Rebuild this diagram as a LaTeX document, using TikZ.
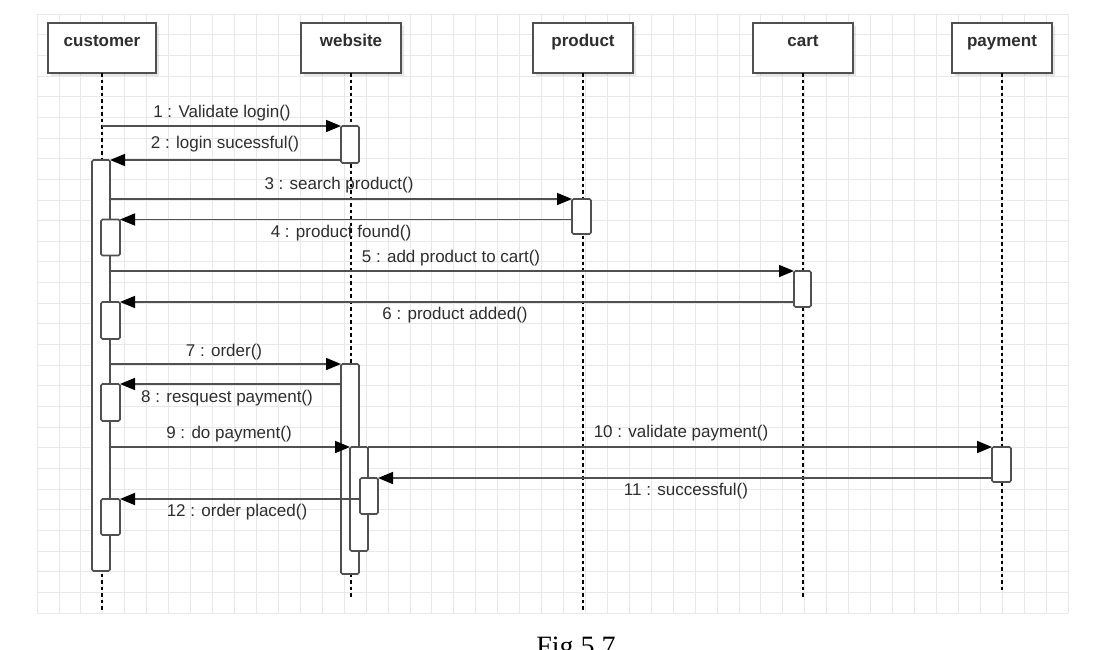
\documentclass[tikz,border=0pt]{standalone}
\usepackage{fontspec}
\setmainfont{Liberation Sans}
\newfontfamily\capfont{Liberation Serif}
\usetikzlibrary{arrows.meta,shadows}
\definecolor{linegray}{HTML}{505050}
\definecolor{gridgray}{HTML}{E8E8E8}
\definecolor{textgray}{HTML}{2E2E2E}
\begin{document}
\begin{tikzpicture}[x=1pt,y=-1pt,
  head/.style={rectangle, draw=linegray, line width=1.6pt, fill=white,
    inner xsep=0pt, inner ysep=0pt, outer sep=0pt, anchor=north west,
    minimum width=#1, text height=23pt, text depth=27pt,
    font=\fontsize{17}{20}\selectfont\bfseries, text=textgray,
    drop shadow={shadow xshift=3pt, shadow yshift=-3pt, opacity=0.10, fill=black}},
  act/.style={rectangle, draw=linegray, line width=1.6pt, fill=white,
    rounded corners=1.5pt, inner sep=0pt, outer sep=0pt, anchor=north west},
  life/.style={black, line width=1.4pt, dash pattern=on 3.5pt off 3pt},
  msg/.style={draw=linegray, line width=1.6pt,
    -{Triangle[length=15pt,width=12pt,color=black]}},
  lbl/.style={font=\fontsize{17}{20}\selectfont, text=textgray, inner sep=0pt}]

\useasboundingbox (0,0) rectangle (1114,649);
\fill[white] (0,0) rectangle (1114,649);

% background grid
\foreach \i in {0,...,47}
  \draw[gridgray, line width=0.8pt] ({37+\i*21.936},14) -- ({37+\i*21.936},613);
\foreach \j in {0,...,29}
  \draw[gridgray, line width=0.8pt] (37,{14+\j*20.655}) -- (1068,{14+\j*20.655});

% participants
\node[head=108pt] (Chead) at (48,23)  {customer};
\node[head=100pt] (Whead) at (301,23) {website};
\node[head=100pt] (Phead) at (533,23) {product};
\node[head=100pt] (Khead) at (753,23) {cart};
\node[head=100pt] (Yhead) at (952,23) {payment};

% lifeline ends
\coordinate (Cend) at (102,612);
\coordinate (Wend) at (351,597);
\coordinate (Pend) at (583,612);
\coordinate (Kend) at (803,598);
\coordinate (Yend) at (1002,591);

\draw[life] (Chead.south) -- (Cend);
\draw[life] (Whead.south) -- (Wend);
\draw[life] (Phead.south) -- (Pend);
\draw[life] (Khead.south) -- (Kend);
\draw[life] (Yhead.south) -- (Yend);

% activation bars
\node[act, minimum width=18pt, minimum height=37pt]  (W1)   at (341,126) {};
\node[act, minimum width=18pt, minimum height=411pt] (Cbig) at (92,160)  {};
\node[act, minimum width=19pt, minimum height=35pt]  (P)    at (572,199) {};
\node[act, minimum width=19pt, minimum height=36pt]  (Cs1)  at (101,219.5) {};
\node[act, minimum width=17pt, minimum height=36pt]  (K)    at (794,271) {};
\node[act, minimum width=19pt, minimum height=37pt]  (Cs2)  at (101,302) {};
\node[act, minimum width=18pt, minimum height=210pt] (W2)   at (341,364) {};
\node[act, minimum width=19pt, minimum height=37pt]  (Cs3)  at (101,384) {};
\node[act, minimum width=18pt, minimum height=104pt] (W3)   at (350,447) {};
\node[act, minimum width=19pt, minimum height=35pt]  (Y)    at (992,447) {};
\node[act, minimum width=18pt, minimum height=36pt]  (W4)   at (360,478) {};
\node[act, minimum width=19pt, minimum height=36pt]  (Cs4)  at (101,499) {};

% messages
\draw[msg] (Chead.south |- W1.north) -- (W1.north west);
\draw[msg] (W1.west |- Cbig.north) -- (Cbig.north east);
\draw[msg] (Cbig.east |- P.north) -- (P.north west);
\draw[msg] (P.west |- Cs1.north) -- (Cs1.north east);
\draw[msg] (Cbig.east |- K.north) -- (K.north west);
\draw[msg] (K.west |- Cs2.north) -- (Cs2.north east);
\draw[msg] (Cbig.east |- W2.north) -- (W2.north west);
\draw[msg] (W2.west |- Cs3.north) -- (Cs3.north east);
\draw[msg] (Cbig.east |- W3.north) -- (W3.north west);
\draw[msg] (W3.north east) -- (Y.north west);
\draw[msg] (Y.west |- W4.north) -- (W4.north east);
\draw[msg] (W4.west |- Cs4.north) -- (Cs4.north east);

% message labels
\node[lbl] (l1)  at (222,113) {1 : Validate login()};
\node[lbl] (l2)  at (225,144) {2 : login sucessful()};
\node[lbl] (l3)  at (339,185) {3 : search product()};
\node[lbl] (l4)  at (341,233) {4 : product found()};
\node[lbl] (l5)  at (451,258) {5 : add product to cart()};
\node[lbl] (l6)  at (455,315) {6 : product added()};
\node[lbl] (l7)  at (224,352) {7 : order()};
\node[lbl] (l8)  at (227,398) {8 : resquest payment()};
\node[lbl] (l9)  at (229,434) {9 : do payment()};
\node[lbl] (l10) at (681,433) {10 : validate payment()};
\node[lbl] (l11) at (686,491) {11 : successful()};
\node[lbl] (l12) at (237,512) {12 : order placed()};

% caption, running off the lower edge of the page
\node[font=\capfont\fontsize{28}{30}\selectfont, inner sep=0pt, anchor=base]
  (cap) at (576,655) {Fig 5.7};
\end{tikzpicture}
\end{document}
